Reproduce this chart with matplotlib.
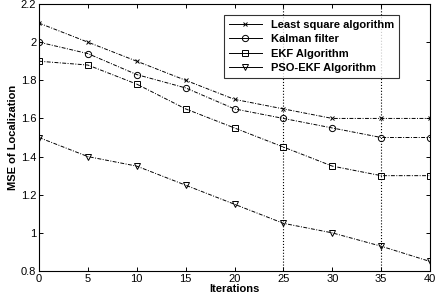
import matplotlib
matplotlib.use("Agg")
from matplotlib import pyplot as plt

iterations = [0, 5, 10, 15, 20, 25, 30, 35, 40]
least_square = [2.1, 2.0, 1.9, 1.8, 1.7, 1.65, 1.6, 1.6, 1.6]
kalman = [2.0, 1.94, 1.83, 1.76, 1.65, 1.6, 1.55, 1.5, 1.5]
ekf = [1.9, 1.88, 1.78, 1.65, 1.55, 1.45, 1.35, 1.3, 1.3]
pso_ekf = [1.5, 1.4, 1.35, 1.25, 1.15, 1.05, 1.0, 0.93, 0.85]

plt.rcParams['font.family'] = ['Liberation Sans', 'DejaVu Sans']
plt.rcParams['font.size'] = 8

fig = plt.figure(figsize=(4.36, 2.97), dpi=100)
ax = fig.add_axes([0.0894, 0.0875, 0.897, 0.899])

ax.axvline(25, color='k', ls=':', lw=0.8)
ax.axvline(35, color='k', ls=':', lw=0.8)

series = [
    (least_square, 'x', 'Least square algorithm', 3),
    (kalman, 'o', 'Kalman filter', 4.5),
    (ekf, 's', 'EKF Algorithm', 5),
    (pso_ekf, 'v', 'PSO-EKF Algorithm', 4.5),
]
for vals, mk, lab, ms in series:
    ax.plot(iterations, vals, color='k', ls=(0, (4, 1.5, 1, 1.5)), lw=0.7,
            marker=mk, ms=ms, mfc='none', mec='k', mew=0.7, label=lab)

ax.set_xlim(0, 40)
ax.set_ylim(0.8, 2.2)
ax.set_xticks(range(0, 41, 5))
ax.set_yticks([0.8, 1, 1.2, 1.4, 1.6, 1.8, 2, 2.2])
ax.set_yticklabels(['0.8', '1', '1.2', '1.4', '1.6', '1.8', '2', '2.2'])
ax.tick_params(direction='in', length=3, width=0.7, top=True, right=True, pad=2)
for s in ax.spines.values():
    s.set_linewidth(0.8)

ax.set_xlabel('Iterations', fontweight='bold', labelpad=0)
ax.set_ylabel('MSE of Localization', fontweight='bold', labelpad=2)

leg = ax.legend(loc='upper right', bbox_to_anchor=(0.935, 0.98), frameon=True,
                fancybox=False, edgecolor='k', handlelength=3.0, borderpad=0.45,
                labelspacing=0.4, prop={'weight': 'bold', 'size': 8})
leg.get_frame().set_linewidth(0.8)
for line in leg.get_lines():
    line.set_linestyle('-')

fig.savefig('out.png', dpi=100)
